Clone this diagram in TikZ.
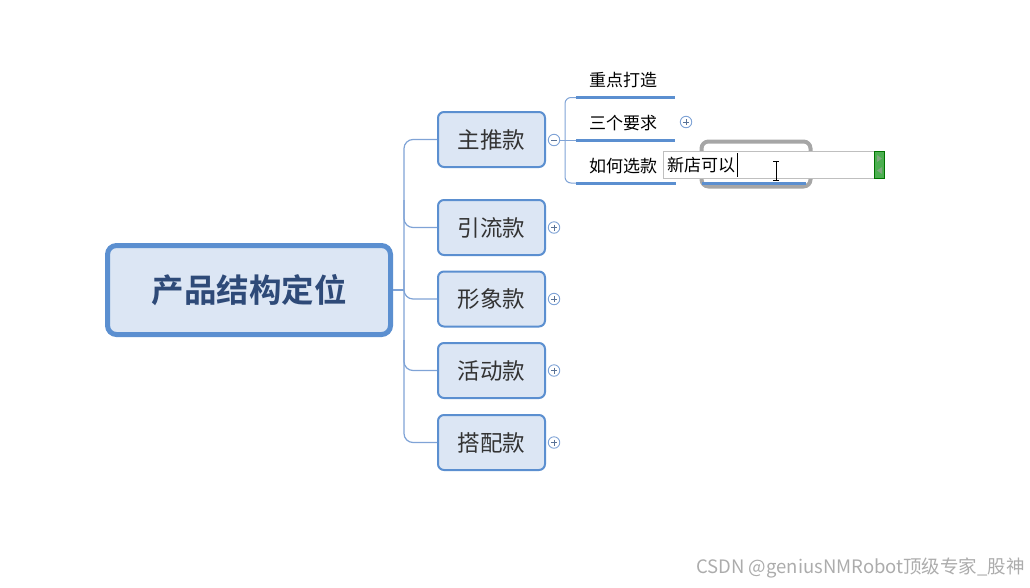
\documentclass[tikz,border=0pt]{standalone}
\usepackage{fontspec}
\usetikzlibrary{calc}
\newfontfamily\cjk{Noto Sans CJK SC}
\newfontfamily\cjkb{Noto Sans CJK SC Bold}
\definecolor{bdr}{HTML}{5B8FD0}
\definecolor{fillb}{HTML}{DCE6F4}
\definecolor{conn}{HTML}{7FA3D6}
\definecolor{roottxt}{HTML}{2E4A78}
\definecolor{txt}{HTML}{333333}
\definecolor{tabg}{HTML}{4CAF50}
\begin{document}
\begin{tikzpicture}[x=1pt,y=-1pt,
  topic/.style={draw=bdr,line width=2pt,fill=fillb,rounded corners=6pt,minimum width=107pt,minimum height=55pt,inner sep=0pt,font=\cjk\fontsize{22.5}{22.5}\selectfont,text=txt},
  cline/.style={draw=conn,line width=1.2pt,rounded corners=9pt},
  pm/.style={circle,draw=conn,line width=0.9pt,minimum size=11.5pt,inner sep=0pt,fill=white},
  subtxt/.style={font=\cjk\fontsize{17}{17}\selectfont,text=black,inner sep=0pt,anchor=west},
  uline/.style={draw=bdr,line width=3pt}]
\useasboundingbox (0,0) rectangle (1030,587);
% root
\node[draw=bdr,line width=5pt,fill=fillb,rounded corners=9pt,minimum width=283pt,minimum height=89pt,inner sep=0pt,text=roottxt,font=\cjkb\fontsize{32.5}{32.5}\selectfont] (root) at (249,290) {产品结构定位};
% children
\node[topic] (c1) at (491.5,139.5) {主推款};
\node[topic] (c2) at (491.5,227.5) {引流款};
\node[topic] (c3) at (491.5,299) {形象款};
\node[topic] (c4) at (491.5,370.5) {活动款};
\node[topic] (c5) at (491.5,442.5) {搭配款};
% trunk
\coordinate (tr) at (404,290);
\draw[cline] (root.east) -- (tr);
\draw[cline] (c1.west) -- (404,139.5) -- (404,442.5) -- (c5.west);
\draw[cline] (404,200) |- (c2.west);
\draw[cline] (404,270) |- (c3.west);
\draw[cline] (404,340) |- (c4.west);
% plus/minus
\foreach \n/\y in {2/227.5,3/299,4/370.5,5/442.5}{
  \node[pm] (p\n) at (554,\y) {};
  \draw[conn!70!black,line width=0.9pt] ($(p\n)+(-3,0)$) -- ($(p\n)+(3,0)$) ($(p\n)+(0,-3)$) -- ($(p\n)+(0,3)$);
}
\node[pm] (m1) at (554,140) {};
\draw[conn!70!black,line width=0.9pt] ($(m1)+(-3,0)$) -- ($(m1)+(3,0)$);
% subtopics
\coordinate (st) at (565,140);
\coordinate (u1a) at (576,97.5); \coordinate (u1b) at (675,97.5);
\coordinate (u2a) at (576,140); \coordinate (u2b) at (675,140);
\coordinate (u3a) at (576,183); \coordinate (u3b) at (676,183);
\draw[cline,line width=1pt,rounded corners=6pt] (u1a) -- (565,97.5) -- (565,183) -- (u3a);
\draw[cline,line width=1pt] (m1.east) -- (u2a);
\draw[uline] (u1a) -- (u1b);
\draw[uline] (u2a) -- (u2b);
\draw[uline] (u3a) -- (u3b);
\node[subtxt] (s1) at (589,80) {重点打造};
\node[subtxt] (s2) at (589,123) {三个要求};
\node[subtxt] (s3) at (589,166) {如何选款};
\node[pm] (p6) at (686,122) {};
\draw[conn!70!black,line width=0.9pt] ($(p6)+(-3,0)$) -- ($(p6)+(3,0)$) ($(p6)+(0,-3)$) -- ($(p6)+(0,3)$);
% editing topic
\node[draw=gray!70,line width=4pt,rounded corners=7pt,minimum width=109pt,minimum height=45pt] (sel) at (756,164) {};
\draw[uline] (702,183) -- (806,183);
\node[draw=gray!50,fill=white,line width=0.6pt,minimum width=212pt,minimum height=27pt,inner sep=0pt] (ed) at (769,164.5) {};
\node[subtxt,font=\cjk\fontsize{17}{17}\selectfont] (edt) at (667,165) {新店可以};
\draw[black,line width=0.8pt] (737,153) -- (737,177);
\node[draw=green!45!black,fill=tabg,minimum width=10pt,minimum height=27pt,inner sep=0pt] (tab) at (879.5,164.5) {};
\fill[green!30!black!50!white] (877,155) -- (882,158.5) -- (877,162) -- cycle;
\fill[green!30!black!50!white] (882,167) -- (877,170.5) -- (882,174) -- cycle;
% I-beam cursor
\draw[black,line width=0.9pt] (776,161) -- (776,180) (773,161) -- (779,161) (773,180) -- (779,180);
% watermark
\node[font=\cjk\fontsize{18.5}{18.5}\selectfont,text=gray!65,anchor=east,inner sep=0pt] (wm) at (1025,568) {CSDN @geniusNMRobot顶级专家\_股神};
\end{tikzpicture}
\end{document}
